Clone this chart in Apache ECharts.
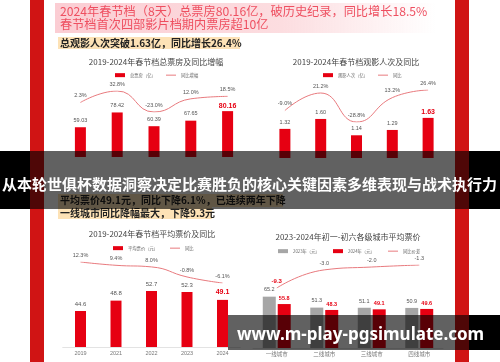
<!DOCTYPE html>
<html><head><meta charset="utf-8">
<script src="https://cdn.jsdelivr.net/npm/echarts@6/dist/echarts.min.js"></script>
<style>
html,body{margin:0;padding:0;background:#fff}
#wrap{position:relative;width:500px;height:362px;overflow:hidden}
#c{position:absolute;left:0;top:0;width:500px;height:362px}
.o{position:absolute;white-space:nowrap;font-family:'Noto Sans CJK SC',sans-serif}
</style>
</head><body><div id="wrap"><div id="c"></div><div id="ov"></div></div>
<script>
// ---- data ----
const years = ['2019', '2021', '2022', '2023', '2024'];
const boxOffice = [59.03, 78.42, 60.39, 67.65, 80.16];
const boxOfficeYoY = [2.3, 32.8, -23.0, 12.0, 18.5];
const admissions = [1.32, 1.60, 1.14, 1.29, 1.63];
const admissionsYoY = [-9.0, 21.2, -28.8, 13.2, 26.4];
const avgPrice = [44.6, 48.8, 52.7, 52.3, 49.1];
const avgPriceYoY = [12.3, 9.4, 8.0, -0.8, -6.1];
const cityTiers = ['一线城市', '二线城市', '三线城市', '四线城市'];
const price2023 = [65.2, 51.3, 51.1, 50.9];
const price2024 = [55.8, 48.3, 49.1, 49.6];
const priceDiff = [-9.3, -3.0, -2.0, -1.3];

const chart = echarts.init(document.getElementById('c'), null, {renderer: 'canvas'});
const NUM = "'Liberation Sans','Noto Sans CJK SC',sans-serif";
const CJK = "'Noto Sans CJK SC',sans-serif";
const RED = '#e60012', GREY = '#a6a6a6', LINE = '#e87a7e';
const LINEICON = 'path://M0,0H20V2H0Z';

function lastRed(arr, size, dist) {
  return arr.map((v, i) => i === arr.length - 1
    ? {value: v, label: {color: RED, fontWeight: 'bold', fontSize: size, distance: dist}} : v);
}
const val = p => +(Array.isArray(p.value) ? p.value[p.value.length - 1] : p.value);
const pct = p => val(p).toFixed(1) + '%';
const fx1 = p => val(p).toFixed(1);
const fx2 = p => val(p).toFixed(2);

const grids = [
  {left: 62, width: 184, top: 96, height: 61},
  {left: 62, width: 184, top: 91, height: 21},
  {left: 267, width: 179, top: 87, height: 71},
  {left: 267, width: 179, top: 90, height: 32},
  {left: 62.75, width: 177.5, top: 273, height: 74},
  {left: 62.75, width: 177.5, top: 262, height: 21},
  {left: 253, width: 190, top: 285, height: 63},
  {left: 253, width: 190, top: 265, height: 23}
];
function xAx(gi, cats, showLabels) {
  return {type: 'category', gridIndex: gi, data: cats,
    axisLine: {show: showLabels, lineStyle: {color: '#e3e3e3'}},
    axisTick: {show: false},
    axisLabel: {show: showLabels, fontSize: 5.5, color: '#777', margin: 4, fontFamily: NUM}};
}
function yAx(gi, min, max) {
  return {type: 'value', gridIndex: gi, min: min, max: max,
    axisLine: {show: false}, axisTick: {show: false}, axisLabel: {show: false}, splitLine: {show: false}};
}
const barLabel = (size, dist) => ({show: true, position: 'top', fontSize: size, color: '#555', distance: dist, fontFamily: NUM});
const lineSeries = (name, gi, data, fmt) => ({
  name: name, type: 'line', xAxisIndex: gi, yAxisIndex: gi, data: data, smooth: true,
  symbol: 'circle', symbolSize: 0.01, showSymbol: true,
  lineStyle: {color: LINE, width: 1}, itemStyle: {color: LINE},
  label: {show: true, position: 'top', fontSize: 5.5, color: '#555', distance: 4, fontFamily: NUM, formatter: fmt},
  z: 3
});
function leg(name, icon, left, top) {
  return {left: left, top: top, itemWidth: 10, itemHeight: 4, padding: 0,
    textStyle: {fontSize: 4.3, color: '#666', fontFamily: CJK},
    data: [{name: name, icon: icon}]};
}

chart.setOption({
  animation: false,
  textStyle: {fontFamily: NUM},
  grid: grids,
  xAxis: [xAx(0, years, false), xAx(1, years, false), xAx(2, years, false), xAx(3, years, false),
          xAx(4, years, true), xAx(5, years, false), xAx(6, cityTiers, true), xAx(7, cityTiers, false)],
  yAxis: [yAx(0, 20, 100), yAx(1, -23, 32.8), yAx(2, 0.5, 2.5), yAx(3, -28.8, 26.4),
          yAx(4, 30, 60), yAx(5, -6.1, 12.3), yAx(6, 0, 80), yAx(7, -9.3, -1.3)],
  legend: [
    leg('总票房（亿）', 'rect', 115, 73), leg('同比增幅', LINEICON, 166, 73),
    leg('观影人次（亿）', 'rect', 323, 73), leg('同比', LINEICON, 378, 73),
    leg('平均票价（元）', 'rect', 113, 246), leg('同比 ', LINEICON, 170, 246),
    leg('2023年（元）', 'rect', 278, 249), leg('2024年（元）', 'rect', 333, 249), leg('同比价差', LINEICON, 388, 249)
  ],
  series: [
    {name: '总票房（亿）', type: 'bar', xAxisIndex: 0, yAxisIndex: 0, barWidth: 11, itemStyle: {color: RED},
     label: barLabel(5.5, 4), data: lastRed(boxOffice, 7, 1.5)},
    lineSeries('同比增幅', 1, boxOfficeYoY, pct),
    {name: '观影人次（亿）', type: 'bar', xAxisIndex: 2, yAxisIndex: 2, barWidth: 11, itemStyle: {color: RED},
     label: Object.assign(barLabel(5.5, 4), {formatter: fx2}), data: lastRed(admissions, 7, 2.5)},
    lineSeries('同比', 3, admissionsYoY, pct),
    {name: '平均票价（元）', type: 'bar', xAxisIndex: 4, yAxisIndex: 4, barWidth: 11, itemStyle: {color: RED},
     label: barLabel(6, 4), data: lastRed(avgPrice, 7, 4)},
    lineSeries('同比 ', 5, avgPriceYoY, pct),
    {name: '2023年（元）', type: 'bar', xAxisIndex: 6, yAxisIndex: 6, barWidth: 13, barGap: '15%', itemStyle: {color: GREY},
     label: barLabel(5.5, 4), data: price2023},
    {name: '2024年（元）', type: 'bar', xAxisIndex: 6, yAxisIndex: 6, barWidth: 13, barGap: '15%', itemStyle: {color: RED},
     label: Object.assign(barLabel(5.5, 3), {color: RED, fontWeight: 'bold'}), data: price2024},
    lineSeries('同比价差', 7, priceDiff.map((v, i) => i === 0 ? {value: v, label: {color: RED, fontWeight: 'bold', fontSize: 6}} : v), fx1)
  ]
});
// make sure every element (incl. smooth lines) is in the display list before the first paint
chart.getZr().storage.getDisplayList(true);

// ---- page decoration and captions as HTML overlay ----
const ov = document.getElementById('ov');
function box(x, y, w, h, bg) {
  const d = document.createElement('div'); d.className = 'o';
  Object.assign(d.style, {left: x + 'px', top: y + 'px', width: w + 'px', height: h + 'px', background: bg});
  ov.appendChild(d);
}
function text(t, x, cy, size, color, weight, center, family) {
  const d = document.createElement('div'); d.className = 'o'; d.textContent = t;
  const st = {top: (cy - size) + 'px', height: (2 * size) + 'px', lineHeight: (2 * size) + 'px',
    fontSize: size + 'px', color: color, fontWeight: weight || 'normal'};
  if (family) st.fontFamily = family;
  if (center) { st.left = (x - 150) + 'px'; st.width = '300px'; st.textAlign = 'center'; }
  else st.left = x + 'px';
  Object.assign(d.style, st); ov.appendChild(d);
}
box(30, 0, 13.5, 362, '#d01414');
box(455, 0, 13.5, 362, '#d01414');
box(55, 3, 380, 30, 'linear-gradient(to right, #fbcdd3, #fcdde0 60%, rgba(255,255,255,0))');
text('2024年春节档（8天）总票房80.16亿，破历史纪录，同比增长18.5%', 60, 11.5, 12.2, '#ee4f60');
text('春节档首次四部影片档期内票房超10亿', 60, 24, 12.2, '#ee4f60');
box(58, 37, 182, 12, '#fde2b6');
text('总观影人次突破1.63亿，同比增长26.4%', 60, 43, 10, '#222', 'bold');
box(58, 194, 225, 13, '#fde2b6');
text('平均票价49.1元，同比下降6.1%，已连续两年下降', 60, 200, 10, '#222', 'bold');
box(58, 207, 154, 12, '#fde2b6');
text('一线城市同比降幅最大，下降9.3元', 60, 213, 10, '#222', 'bold');
text('2019-2024年春节档总票房及同比增幅', 156, 62, 8, '#444', 'normal', true);
text('2019-2024年春节档观影人次及同比', 356, 62, 8, '#444', 'normal', true);
text('2019-2024年春节档平均票价及同比', 152, 234, 8, '#444', 'normal', true);
text('2023-2024年初一-初六各级城市平均票价', 348, 237, 8, '#444', 'normal', true);
box(0, 151, 500, 58, 'rgba(0,0,0,0.62)');
box(0, 151, 30, 58, '#000');
box(468.5, 151, 31.5, 58, '#000');
text('从本轮世俱杯数据洞察决定比赛胜负的核心关键因素多维表现与战术执行力', 2, 184, 15, '#fff', 'bold');
box(228, 315, 272, 35, 'rgba(0,0,0,0.62)');
box(468.5, 315, 31.5, 35, '#000');
text('www.m-play-pgsimulate.com', 237, 334, 17, '#fff', 'bold', false, "'Noto Sans',sans-serif");
</script></body></html>
